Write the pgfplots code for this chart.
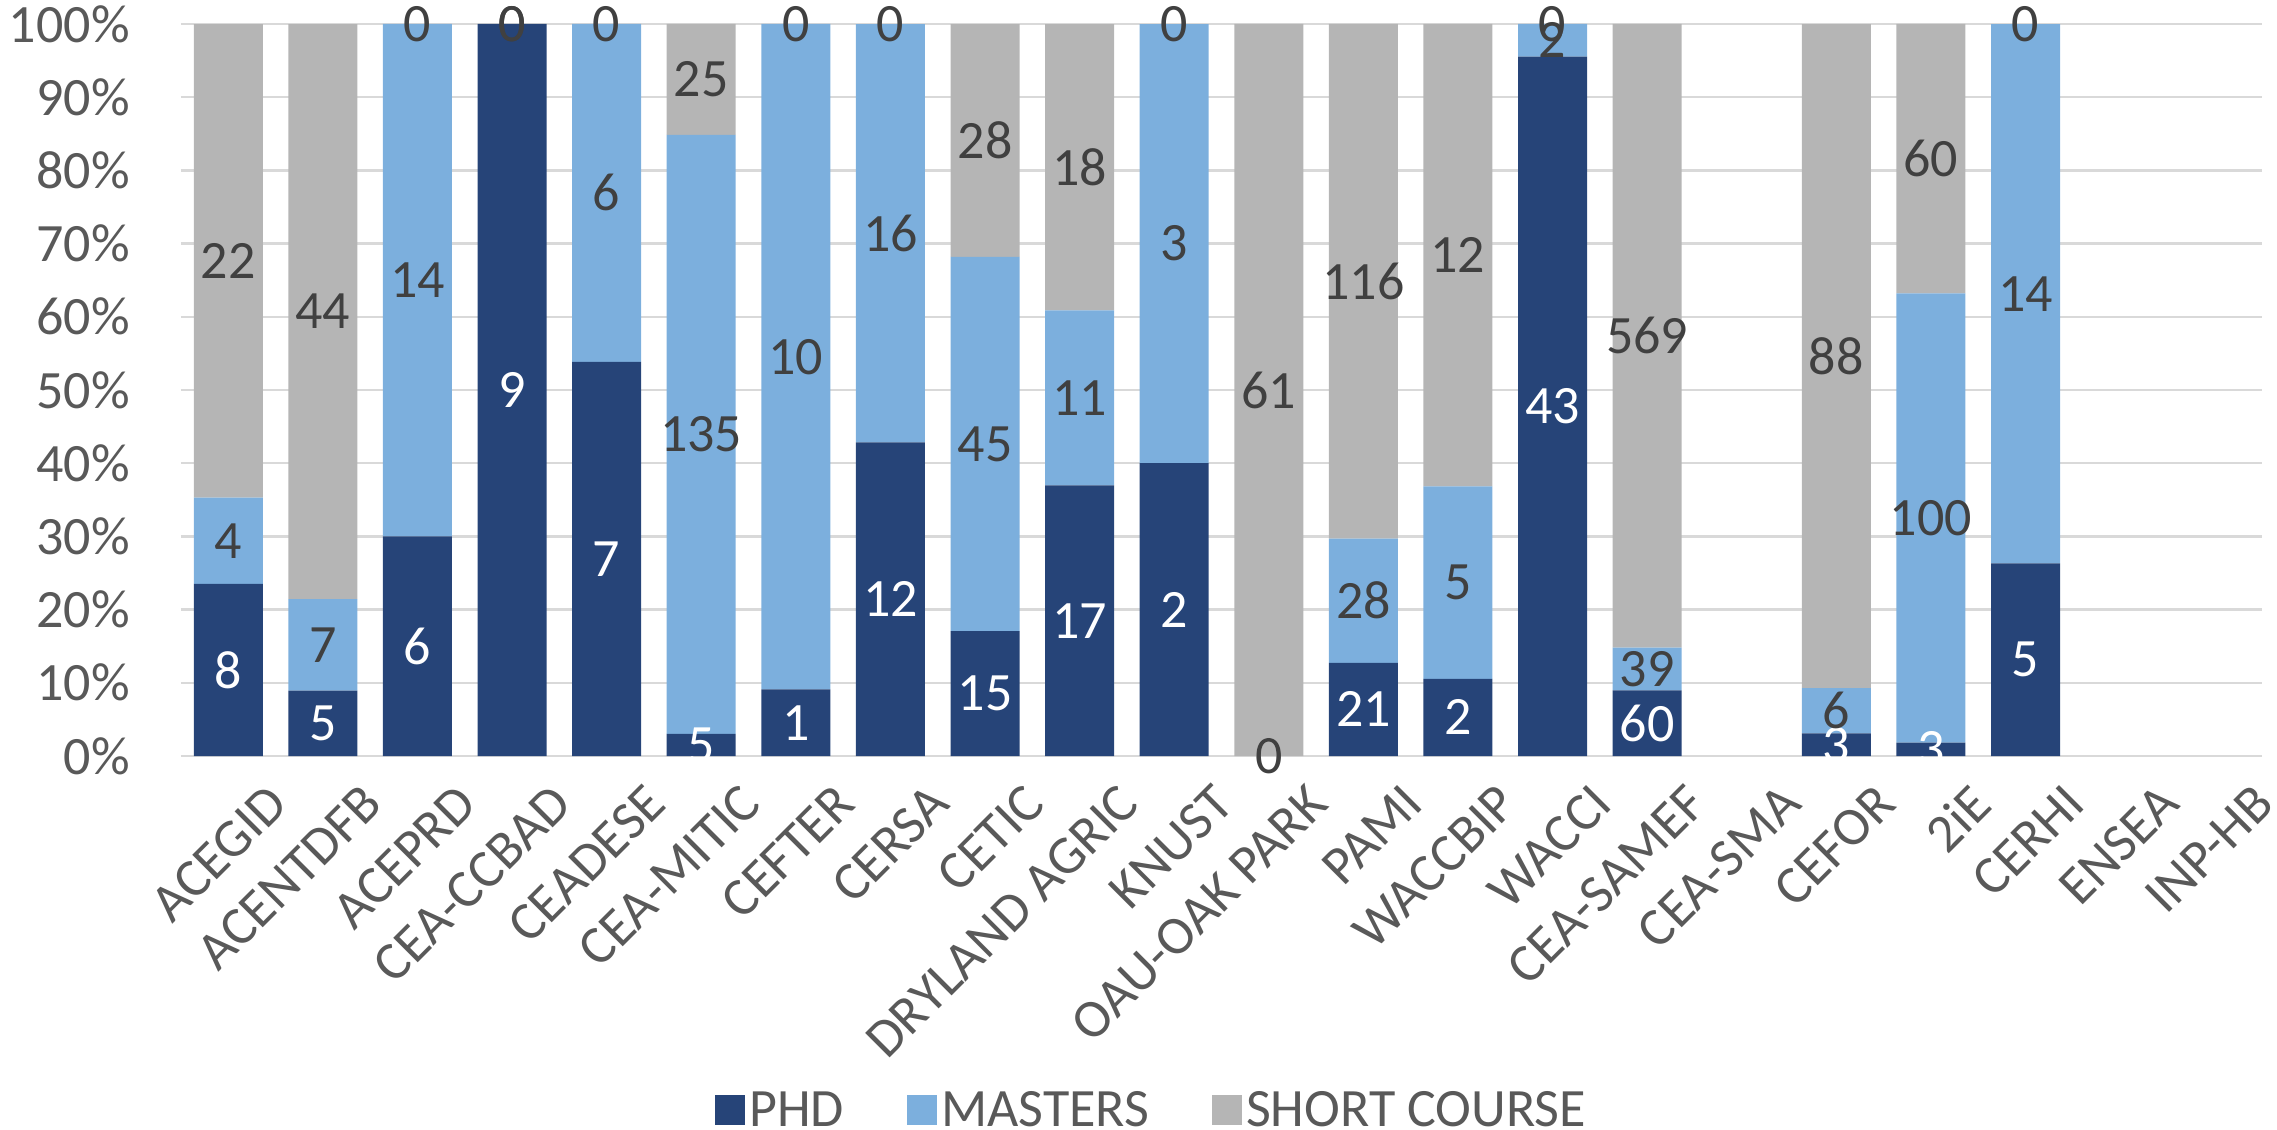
\documentclass[border=0pt]{standalone}
\usepackage{fontspec}
\setmainfont{Carlito}
\usepackage{pgfplots}
\pgfplotsset{compat=1.18}
\usepackage{pgfplotstable}

\definecolor{phd}{HTML}{264478}
\definecolor{mas}{HTML}{7CAFDD}
\definecolor{sho}{HTML}{B5B5B5}
\definecolor{txt}{HTML}{595959}
\definecolor{lbl}{HTML}{404040}
\definecolor{gridc}{HTML}{D9D9D9}

% raw counts per centre; empty centres (16, 20, 21) have no row
\pgfplotstableread{
x  phd mas sho
0  8   4   22
1  5   7   44
2  6   14  0
3  9   0   0
4  7   6   0
5  5   135 25
6  1   10  0
7  12  16  0
8  15  45  28
9  17  11  18
10 2   3   0
11 0   0   61
12 21  28  116
13 2   5   12
14 43  2   0
15 60  39  569
17 3   6   88
18 3   100 60
19 5   14  0
}\data

\newcommand{\tot}{(\thisrow{phd}+\thisrow{mas}+\thisrow{sho})}
\pgfplotsset{
  frame/.style={
    at={(90.5pt,187pt)}, anchor=south west,
    width=1040.5pt, height=366pt, scale only axis,
    xmin=-0.5, xmax=21.5, ymin=0, ymax=100,
  },
  lab/.style={draw=none, mark=none, nodes near coords, point meta=explicit symbolic,
    every node near coord/.append style={font=\fontsize{27}{32}\selectfont, anchor=center, text=#1}},
}

\begin{document}
\begin{tikzpicture}
\useasboundingbox (0,0) rectangle (1138.5pt,565pt);
\begin{axis}[
  frame,
  ybar stacked, bar width=34.5pt,
  xtick={0,...,21},
  xticklabels={ACEGID,ACENTDFB,ACEPRD,CEA-CCBAD,CEADESE,CEA-MITIC,CEFTER,CERSA,CETIC,DRYLAND AGRIC,KNUST,OAU-OAK PARK,PAMI,WACCBIP,WACCI,CEA-SAMEF,CEA-SMA,CEFOR,2iE,CERHI,ENSEA,INP-HB},
  ytick={0,10,...,100},
  yticklabel={\pgfmathprintnumber{\tick}\%},
  /pgf/number format/assume math mode=true,
  axis line style={draw=none},
  major tick length=0pt,
  ymajorgrids, grid style={gridc, line width=1.2pt},
  ticklabel style={font=\fontsize{27}{32}\selectfont, text=txt},
  yticklabel style={inner sep=0pt, xshift=-25.5pt},
  xticklabel style={rotate=45, anchor=north east, inner sep=0pt, yshift=-22pt, xshift=4pt},
  legend style={at={(0.467,-0.484)}, anchor=center, draw=none, legend columns=-1,
    font=\fontsize{27}{32}\selectfont, text=txt,
    /tikz/every even column/.append style={column sep=29.5pt}},
  legend image code/.code={\draw[#1,draw=none] (0pt,-7.5pt) rectangle (15pt,7.5pt);},
]
\addplot[fill=phd, draw=none] table[x=x, y expr={100*\thisrow{phd}/\tot}] {\data};
\addplot[fill=mas, draw=none] table[x=x, y expr={100*\thisrow{mas}/\tot}] {\data};
\addplot[fill=sho, draw=none] table[x=x, y expr={100*\thisrow{sho}/\tot}] {\data};
\legend{PHD, MASTERS, SHORT COURSE}
\end{axis}
% data labels, centred in each segment
\begin{axis}[frame, hide axis, clip=false]
\addplot[lab=white] table[x=x, y expr={50*\thisrow{phd}/\tot}, meta=phd] {\data};
\addplot[lab=lbl] table[x=x, y expr={100*(\thisrow{phd}+0.5*\thisrow{mas})/\tot}, meta=mas] {\data};
\addplot[lab=lbl] table[x=x, y expr={100*(\thisrow{phd}+\thisrow{mas}+0.5*\thisrow{sho})/\tot}, meta=sho] {\data};
\end{axis}
\end{tikzpicture}
\end{document}
